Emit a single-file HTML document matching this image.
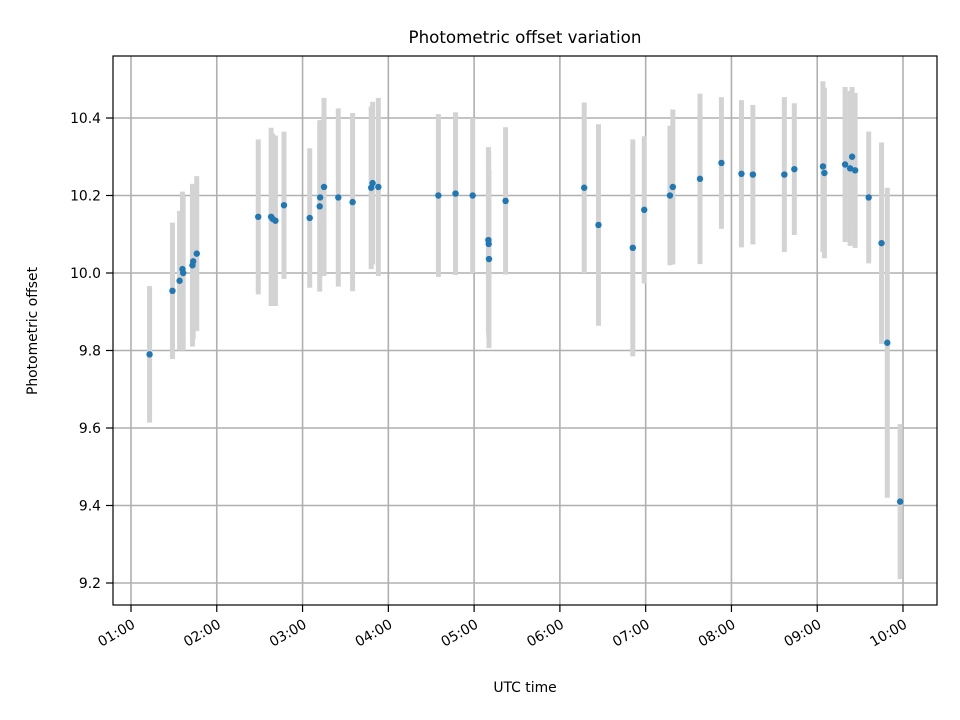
<!DOCTYPE html>
<html><head><meta charset="utf-8"><style>
body{margin:0;background:#fff}
svg{display:block;font-family:"DejaVu Sans","Liberation Sans",sans-serif}
</style></head><body>
<svg id="chart" width="960" height="720" viewBox="0 0 960 720">
<rect width="960" height="720" fill="#fff"/>
<g id="grid"></g>
<g id="bars"></g>
<g id="dots"></g>
<rect x="113" y="56" width="824" height="549" fill="none" stroke="#000" stroke-width="1.2"/>
<g id="axes"></g>
<text x="525" y="43" text-anchor="middle" font-size="16.7">Photometric offset variation</text>
<text x="525" y="692" text-anchor="middle" font-size="13.9">UTC time</text>
<text transform="translate(37,331) rotate(-90)" text-anchor="middle" font-size="13.9">Photometric offset</text>
</svg>
<script>
// times in minutes after 00:00 UTC
const times=[73,89,94,96,96.5,103,103.5,106,149,158,159,161,167,185,192,192.3,195,205,215,228,229,233,275,287,299,310,310.2,310.4,322,377,387,411,419,437,439,458,473,487,495,517,524,544,545,559.5,563,564.4,566.5,576,585,589,598];
const offsets=[9.79,9.954,9.98,10.01,10.0,10.02,10.03,10.05,10.145,10.145,10.14,10.135,10.175,10.142,10.172,10.195,10.222,10.195,10.183,10.22,10.232,10.222,10.2,10.205,10.2,10.085,10.075,10.036,10.186,10.22,10.124,10.065,10.163,10.2,10.222,10.243,10.284,10.256,10.254,10.254,10.268,10.275,10.258,10.28,10.27,10.3,10.265,10.195,10.077,9.82,9.41];
const errors=[0.176,0.176,0.18,0.2,0.2,0.21,0.2,0.2,0.2,0.23,0.22,0.22,0.19,0.18,0.22,0.2,0.23,0.23,0.23,0.21,0.21,0.23,0.21,0.21,0.2,0.24,0.24,0.23,0.19,0.22,0.26,0.28,0.19,0.18,0.2,0.22,0.17,0.19,0.18,0.2,0.17,0.22,0.22,0.2,0.2,0.18,0.2,0.17,0.26,0.4,0.2];
const yTicks=[9.2,9.4,9.6,9.8,10.0,10.2,10.4];
const xTickLabels=["01:00","02:00","03:00","04:00","05:00","06:00","07:00","08:00","09:00","10:00"];
const xTickMinutes=[60,120,180,240,300,360,420,480,540,600];

const NS="http://www.w3.org/2000/svg";
const X=m=>131+(m-60)*(772/540);
const Y=v=>273-(v-10)*387.5;
function mk(tag,attrs,parent,text){const e=document.createElementNS(NS,tag);for(const k in attrs)e.setAttribute(k,attrs[k]);if(text!==undefined)e.textContent=text;document.getElementById(parent).appendChild(e);return e;}

yTicks.forEach((t,i)=>{
  const y=Y(t);
  const g=mk('line',{x1:113,x2:937,y1:y,y2:y,stroke:'#b0b0b0','stroke-width':1.6},'grid');
  
  
  const tk=mk('line',{x1:106,x2:113,y1:y,y2:y,stroke:'#000','stroke-width':1.2},'axes');
  
  
  const lb=mk('text',{x:101,y:y+5,'text-anchor':'end','font-size':13.9},'axes',t.toFixed(1));
  
  
});
xTickMinutes.forEach((m,i)=>{
  const x=X(m);
  const g=mk('line',{x1:x,x2:x,y1:56,y2:605,stroke:'#b0b0b0','stroke-width':1.6},'grid');
  
  
  const tk=mk('line',{x1:x,x2:x,y1:605,y2:612,stroke:'#000','stroke-width':1.2},'axes');
  
  
  const lb=mk('text',{transform:`translate(${x+5},${627}) rotate(-30)`,'text-anchor':'end','font-size':13.9},'axes',xTickLabels[i]);
  
  
});
times.forEach((m,i)=>{
  const x=X(m);
  const b=mk('line',{x1:x,x2:x,y1:Y(offsets[i]+errors[i]),y2:Y(offsets[i]-errors[i]),stroke:'#d3d3d3','stroke-width':5},'bars');
  
  
});
times.forEach((m,i)=>{
  const d=mk('circle',{cx:X(m),cy:Y(offsets[i]),r:3.2,fill:'#1f77b4'},'dots');
  
  
});
</script>
</body></html>
